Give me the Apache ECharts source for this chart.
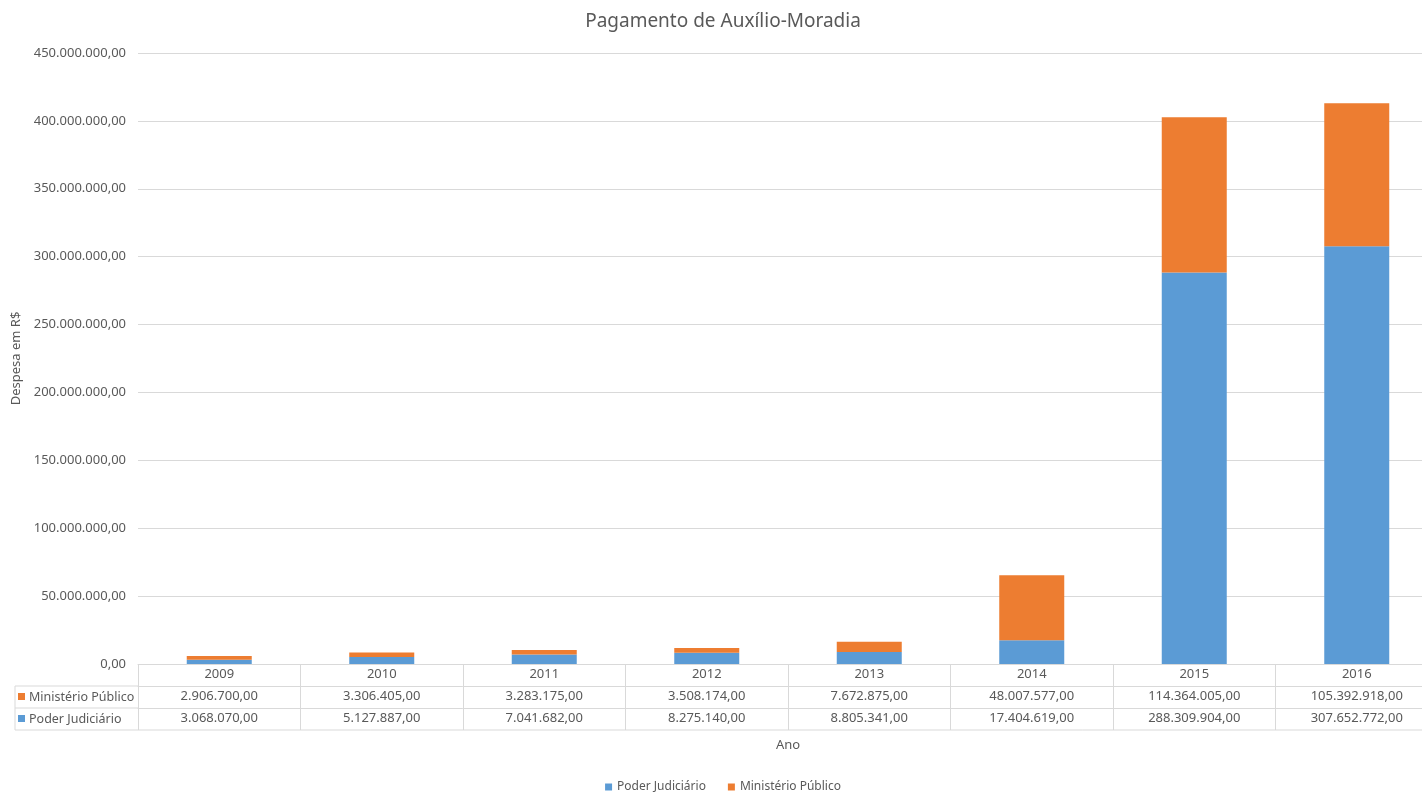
<!DOCTYPE html>
<html><head><meta charset="utf-8">
<script src="https://cdn.jsdelivr.net/npm/echarts@6/dist/echarts.min.js"></script>
<style>html,body{margin:0;padding:0;background:#fff;overflow:hidden;width:1422px;height:792px}#c{width:1446px;height:792px}</style>
</head><body><div id="c"></div>
<script>
const years = ['2009','2010','2011','2012','2013','2014','2015','2016'];
const poderJudiciario = [3068070, 5127887, 7041682, 8275140, 8805341, 17404619, 288309904, 307652772];
const ministerioPublico = [2906700, 3306405, 3283175, 3508174, 7672875, 48007577, 114364005, 105392918];
const seriesNames = ['Poder Judiciário', 'Ministério Público'];
const colors = ['#5B9BD5', '#ED7D31'];

function fmt(v){
  const s = Math.round(v).toString().replace(/\B(?=(\d{3})+(?!\d))/g, '.');
  return s + ',00';
}
const FONT = 'Noto Sans';
const TXT = '#595959';
const LINE = '#D9D9D9';
const FS = 13;

const chart = echarts.init(document.getElementById('c'));
const gLeft = 138, gRight = 8, gTop = 53, gBottom = 128;
const gEnd = 1446 - gRight;
const axisY = 792 - gBottom; // 664
const rowH = 22;

const tableLabelAxis = (vals, off) => ({
  type: 'category', data: years, gridIndex: 0, position: 'bottom', offset: off,
  axisLine: {show: true, lineStyle: {color: LINE}},
  axisTick: {show: false},
  axisLabel: {color: TXT, fontFamily: FONT, fontSize: FS, margin: 4,
    formatter: (v, i) => fmt(vals[i])},
  splitLine: {show: false}
});

chart.setOption({
  backgroundColor: '#fff',
  textStyle: {fontFamily: FONT},
  title: {text: 'Pagamento de Auxílio-Moradia', left: 'center', top: 7,
    textStyle: {color: TXT, fontSize: 19, fontWeight: 'normal', fontFamily: FONT}},
  legend: {bottom: -6, left: 'center', itemWidth: 7, itemHeight: 7, itemGap: 22, icon: 'rect',
    data: seriesNames, textStyle: {color: TXT, fontSize: 12, fontFamily: FONT}},
  grid: {left: gLeft, right: gRight, top: gTop, bottom: gBottom, containLabel: false},
  xAxis: [
    {type: 'category', data: years, position: 'bottom',
     name: 'Ano', nameLocation: 'middle', nameGap: 75,
     nameTextStyle: {color: TXT, fontSize: FS, fontFamily: FONT},
     axisLine: {show: true, lineStyle: {color: LINE}},
     axisTick: {show: true, length: rowH * 3, interval: 0, lineStyle: {color: LINE}},
     axisLabel: {color: TXT, fontFamily: FONT, fontSize: FS, margin: 4}},
    tableLabelAxis(ministerioPublico, rowH),
    tableLabelAxis(poderJudiciario, rowH * 2)
  ],
  yAxis: {type: 'value', min: 0, max: 450000000, interval: 50000000,
    name: 'Despesa em R$', nameLocation: 'middle', nameGap: 110,
    nameTextStyle: {color: TXT, fontSize: FS, fontFamily: FONT},
    axisLine: {show: false}, axisTick: {show: false},
    axisLabel: {color: TXT, fontFamily: FONT, fontSize: FS, margin: 12, formatter: fmt},
    splitLine: {lineStyle: {color: LINE}}},
  series: [
    {name: seriesNames[0], type: 'bar', stack: 't', data: poderJudiciario,
     itemStyle: {color: colors[0]}, barCategoryGap: '60%'},
    {name: seriesNames[1], type: 'bar', stack: 't', data: ministerioPublico,
     itemStyle: {color: colors[1]}, barCategoryGap: '60%'}
  ],
  graphic: [
    {type: 'line', shape: {x1: 15, y1: axisY + rowH, x2: gLeft, y2: axisY + rowH}, style: {stroke: LINE, lineWidth: 1}},
    {type: 'line', shape: {x1: 15, y1: axisY + rowH * 2, x2: gLeft, y2: axisY + rowH * 2}, style: {stroke: LINE, lineWidth: 1}},
    {type: 'line', shape: {x1: 15, y1: axisY + rowH * 3, x2: gEnd, y2: axisY + rowH * 3}, style: {stroke: LINE, lineWidth: 1}},
    {type: 'line', shape: {x1: 15, y1: axisY + rowH, x2: 15, y2: axisY + rowH * 3}, style: {stroke: LINE, lineWidth: 1}},
    {type: 'rect', shape: {x: 18, y: axisY + rowH + 7, width: 7, height: 7}, style: {fill: colors[1]}},
    {type: 'text', x: 29, y: axisY + rowH + 11, style: {text: seriesNames[1], fill: TXT, font: '12.5px "' + FONT + '"', verticalAlign: 'middle'}},
    {type: 'rect', shape: {x: 18, y: axisY + rowH * 2 + 7, width: 7, height: 7}, style: {fill: colors[0]}},
    {type: 'text', x: 29, y: axisY + rowH * 2 + 11, style: {text: seriesNames[0], fill: TXT, font: '12.5px "' + FONT + '"', verticalAlign: 'middle'}}
  ]
});
</script></body></html>
